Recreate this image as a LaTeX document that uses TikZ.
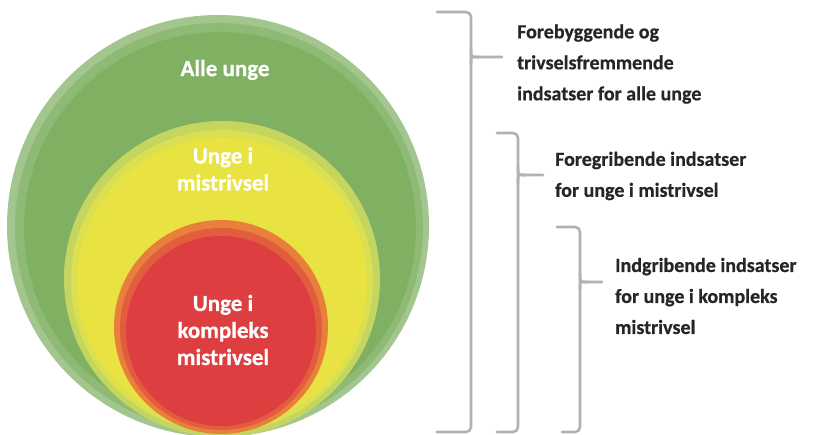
\documentclass[tikz,border=0pt]{standalone}
\usepackage{fontspec}
\setmainfont{Carlito}[BoldFeatures={FakeBold=0.6}]
\begin{document}
\begin{tikzpicture}[x=1pt,y=-1pt,
  intext/.style={font=\bfseries\fontsize{23}{27}\selectfont, text=white, align=center, inner sep=0pt},
  outtext/.style={font=\bfseries\fontsize{20}{31}\selectfont, text=black!85, align=left, anchor=west, inner sep=0pt},
  bracketline/.style={draw=black!30, line width=2.6pt, line cap=round, rounded corners=5pt}]
\useasboundingbox (0,0) rectangle (824,435);
\fill[white] (0,0) rectangle (824,435);
\begin{scope}
\clip (0,0) rectangle (824,435);
% outer green
\fill[fill={rgb,255:red,163;green,197;blue,142}] (218,226) circle[radius=211pt];
\fill[fill={rgb,255:red,143;green,186;blue,118}] (219,227) circle[radius=204pt];
\fill[fill={rgb,255:red,128;green,177;blue,98}] (220,228) circle[radius=196pt];
% yellow
\fill[fill={rgb,255:red,196;green,214;blue,96}] (222,279) circle[radius=158pt];
\fill[fill={rgb,255:red,218;green,224;blue,80}] (222,281) circle[radius=151pt];
\fill[fill={rgb,255:red,232;green,227;blue,66}] (222,283) circle[radius=145pt];
% red
\fill[fill={rgb,255:red,232;green,128;blue,60}] (221,327) circle[radius=107pt];
\fill[fill={rgb,255:red,226;green,92;blue,62}] (221,329) circle[radius=101pt];
\fill[fill={rgb,255:red,221;green,62;blue,64}] (221,331) circle[radius=95pt];
\end{scope}
% circle labels
\node[intext] (alle) at (225,70) {Alle unge};
\node[intext] (mis) at (223,169) {Unge i\\mistrivsel};
\node[intext] (kom) at (223,330) {Unge i\\kompleks\\mistrivsel};
% brackets
\coordinate (b1t) at (437,12); \coordinate (b1v) at (471,57); \coordinate (b1b) at (437,432); \coordinate (b1p) at (502,57);
\coordinate (b2t) at (497,133); \coordinate (b2v) at (518,175); \coordinate (b2b) at (497,432); \coordinate (b2p) at (543,175);
\coordinate (b3t) at (557,227); \coordinate (b3v) at (580,282); \coordinate (b3b) at (562,432); \coordinate (b3p) at (602,282);
\foreach \t/\v/\b/\p in {b1t/b1v/b1b/b1p, b2t/b2v/b2b/b2p, b3t/b3v/b3b/b3p}{
  \draw[bracketline] (\t) -| (\v) |- (\b);
  \draw[bracketline] ([yshift=-8pt]\v) .. controls (\v) .. ([xshift=8pt]\v) -- (\p);
  \draw[bracketline] ([yshift=8pt]\v) .. controls (\v) .. ([xshift=8pt]\v);
}
% right labels
\node[outtext] (t1) at (517,64) {Forebyggende og\\trivselsfremmende\\indsatser for alle unge};
\node[outtext] (t2) at (555,176) {Foregribende indsatser\\for unge i mistrivsel};
\node[outtext] (t3) at (615,296) {Indgribende indsatser\\for unge i kompleks\\mistrivsel};
\end{tikzpicture}
\end{document}
